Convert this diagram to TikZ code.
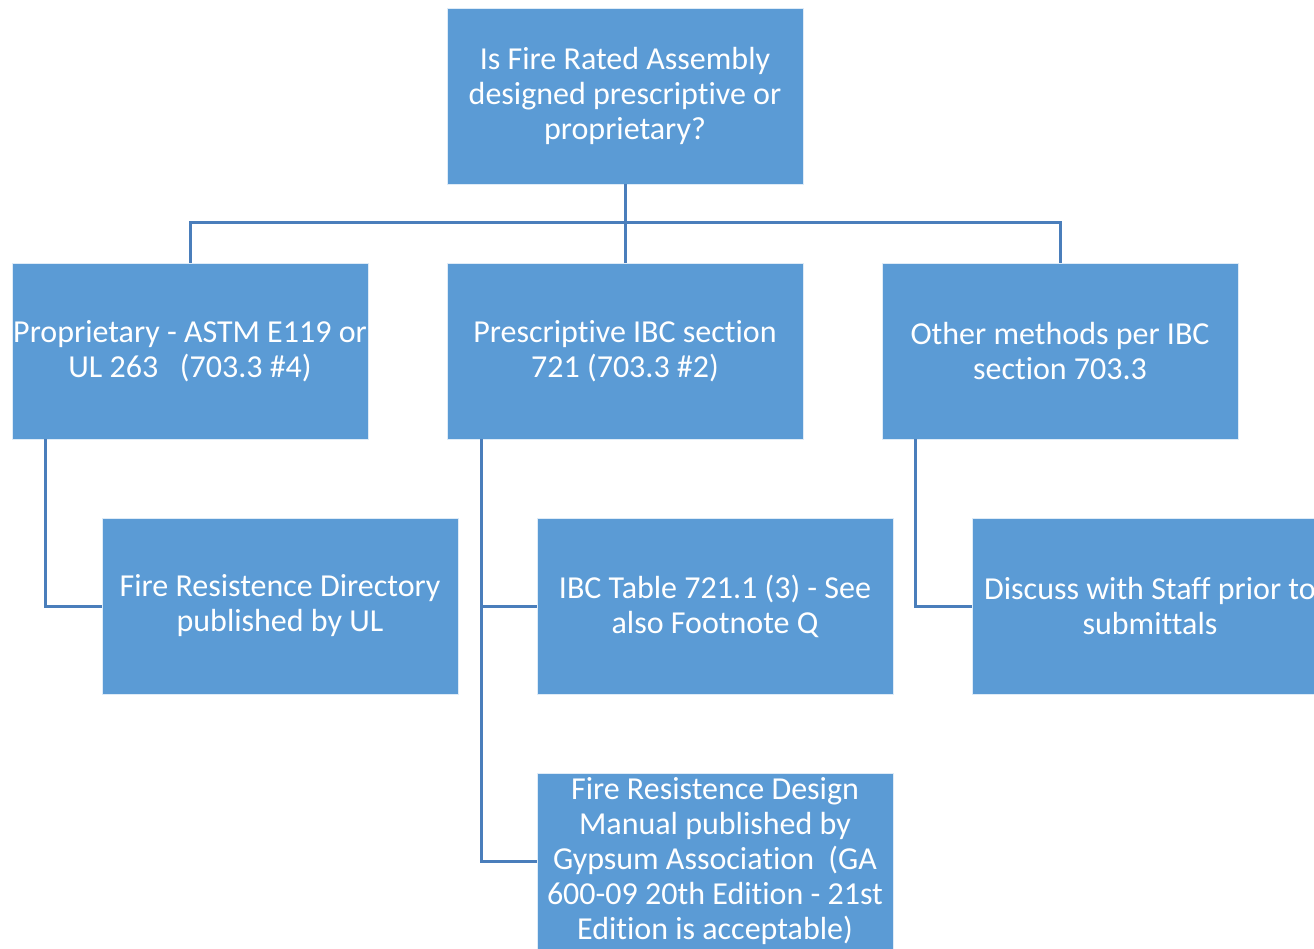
\documentclass[tikz,border=0pt]{standalone}
\usepackage{fontspec}
\setmainfont{Carlito}[Ligatures={NoCommon}]
\definecolor{boxblue}{HTML}{5B9BD5}
\definecolor{lineblue}{HTML}{4A7EBB}
\begin{document}
\begin{tikzpicture}[x=1pt,y=-1pt,
  box/.style={fill=boxblue,draw=white!80!boxblue,line width=0.8pt,minimum width=356pt,minimum height=176pt,inner sep=0pt,
    text=white,align=center,font=\fontsize{32}{35}\selectfont},
  conn/.style={draw=lineblue,line width=3pt}]
\useasboundingbox (0,0) rectangle (1314,948);
\clip (0,0) rectangle (1314,948);
\node[box] (top) at (625,96) {Is Fire Rated Assembly\\designed prescriptive or\\proprietary?};
\node[box] (l2) at (190,351) {Proprietary - ASTM E119 or\\UL 263\ \ \ (703.3 \#4)};
\node[box] (m2) at (625,351) {Prescriptive IBC section\\721 (703.3 \#2)};
\node[box] (r2) at (1060,351) {Other methods per IBC\\section 703.3};
\node[box] (l3) at (280,606) {Fire Resistence Directory\\published by UL};
\node[box] (m3) at (715,606) {IBC Table 721.1 (3) - See\\also Footnote Q};
\node[box] (r3) at (1150,606) {Discuss with Staff prior to\\submittals};
\node[box] (m4) at (715,861) {Fire Resistence Design\\Manual published by\\Gypsum Association\ \ (GA\\600-09 20th Edition - 21st\\Edition is acceptable)};
\coordinate (j) at (625,222);
\draw[conn] (top.south) -- (m2.north);
\draw[conn] (l2.north) -- (l2.north |- j) -- (r2.north |- j) -- (r2.north);
\coordinate (lv) at ([xshift=34pt]l2.south west);
\coordinate (mv) at ([xshift=35pt]m2.south west);
\coordinate (rv) at ([xshift=34pt]r2.south west);
\draw[conn] (lv) |- (l3.west);
\draw[conn] (mv) |- (m4.west);
\draw[conn] (mv |- m3.west) -- (m3.west);
\draw[conn] (rv) |- (r3.west);
\end{tikzpicture}
\end{document}
